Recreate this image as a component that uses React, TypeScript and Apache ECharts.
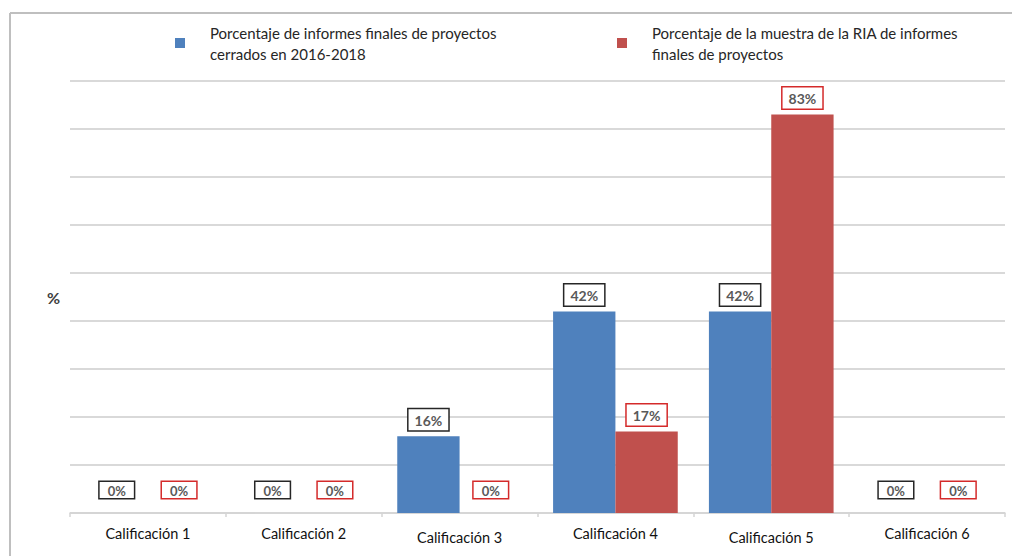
import React, { useEffect, useRef } from "react";
import * as echarts from "echarts";

const categories = [
  "Calificación 1",
  "Calificación 2",
  "Calificación 3",
  "Calificación 4",
  "Calificación 5",
  "Calificación 6",
];
const seriesNames = [
  "Porcentaje de informes finales de proyectos\ncerrados en 2016-2018",
  "Porcentaje de la muestra de la RIA de informes\nfinales de proyectos",
];
const closedProjects = [0, 0, 16, 42, 42, 0];
const riaSample = [0, 0, 0, 17, 83, 0];
const yTicks = { min: 0, max: 90, interval: 10 };

const FONT = "Lato, 'Open Sans', sans-serif";

function buildData(values: number[]) {
  return values.map((v) =>
    v === 0
      ? {
          value: v,
          label: { distance: 15, fontSize: 13, padding: [2, 8, 1, 8] },
        }
      : { value: v }
  );
}

export default function App() {
  const ref = useRef<HTMLDivElement>(null);
  useEffect(() => {
    if (!ref.current) return;
    const chart = echarts.init(ref.current, null, { renderer: "svg" });
    const labelBase = {
      show: true,
      position: "top",
      distance: 6,
      formatter: "{c}%",
      color: "#595959",
      fontFamily: FONT,
      fontSize: 14,
      fontWeight: "bold",
      borderWidth: 1.5,
      padding: [4, 6, 3, 6],
      backgroundColor: "#ffffff",
    };
    const legendText = {
      fontFamily: FONT,
      fontSize: 15,
      color: "#262626",
      lineHeight: 21,
      padding: [18, 0, 0, 20],
    };
    chart.setOption({
      animation: false,
      backgroundColor: "#ffffff",
      grid: { left: 70, right: 7, top: 81, bottom: 43, containLabel: false },
      legend: [
        {
          data: [seriesNames[0]],
          left: 175,
          top: 13,
          padding: 0,
          itemWidth: 10,
          itemHeight: 10,
          icon: "rect",
          textStyle: legendText,
          selectedMode: false,
        },
        {
          data: [seriesNames[1]],
          left: 617,
          top: 13,
          padding: 0,
          itemWidth: 10,
          itemHeight: 10,
          icon: "rect",
          textStyle: legendText,
          selectedMode: false,
        },
      ],
      xAxis: {
        type: "category",
        data: categories,
        axisLine: { show: true, lineStyle: { color: "#d4d4d4", width: 1.5 } },
        axisTick: {
          show: true,
          interval: 0,
          length: 4,
          lineStyle: { color: "#d4d4d4", width: 1.5 },
        },
        axisLabel: {
          interval: 0,
          color: "#111111",
          fontFamily: FONT,
          fontSize: 14.5,
          margin: 13,
          hideOverlap: false,
          formatter: (value: string, index: number) =>
            index === 2 || index === 4 ? `{low|${value}}` : `{up|${value}}`,
          rich: {
            up: { fontFamily: FONT, fontSize: 14.5, color: "#111111" },
            low: {
              fontFamily: FONT,
              fontSize: 14.5,
              color: "#111111",
              padding: [4, 0, 0, 0],
            },
          },
        },
      },
      yAxis: {
        type: "value",
        min: yTicks.min,
        max: yTicks.max,
        interval: yTicks.interval,
        name: "%",
        nameLocation: "middle",
        nameRotate: 0,
        nameGap: 10,
        nameTextStyle: {
          color: "#404040",
          fontFamily: FONT,
          fontSize: 16,
          fontWeight: "bold",
        },
        axisLine: { show: false },
        axisTick: { show: false },
        axisLabel: { show: false },
        splitLine: { show: true, lineStyle: { color: "#d9d9d9", width: 2 } },
      },
      series: [
        {
          name: seriesNames[0],
          type: "bar",
          data: buildData(closedProjects),
          barGap: "0%",
          barCategoryGap: "20%",
          itemStyle: { color: "#4f81bd" },
          label: { ...labelBase, borderColor: "#262626" },
        },
        {
          name: seriesNames[1],
          type: "bar",
          data: buildData(riaSample),
          itemStyle: { color: "#c0504d" },
          label: { ...labelBase, borderColor: "#d42a2a" },
        },
      ],
      graphic: [
        {
          type: "line",
          shape: { x1: 10, y1: 13, x2: 1012, y2: 13 },
          style: { stroke: "#bfbfbf", lineWidth: 2 },
          silent: true,
        },
        {
          type: "line",
          shape: { x1: 10, y1: 13, x2: 10, y2: 556 },
          style: { stroke: "#bfbfbf", lineWidth: 2 },
          silent: true,
        },
      ],
    });
    return () => chart.dispose();
  }, []);
  return (
    <div
      ref={ref}
      style={{ position: "fixed", left: 0, top: 0, width: 1012, height: 556 }}
    />
  );
}
